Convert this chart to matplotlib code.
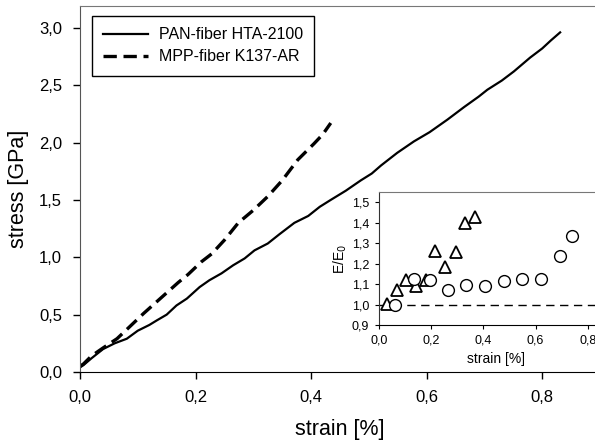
import matplotlib
matplotlib.use("Agg")
import matplotlib.pyplot as plt
from matplotlib.ticker import FuncFormatter

plt.rcParams['font.family'] = ['Liberation Sans', 'DejaVu Sans']

# stress-strain curves
pan_strain = [0.000, 0.006, 0.020, 0.040, 0.060, 0.081, 0.100, 0.120, 0.133, 0.150,
              0.167, 0.185, 0.207, 0.224, 0.245, 0.265, 0.285, 0.302, 0.325, 0.345,
              0.371, 0.395, 0.415, 0.434, 0.460, 0.486, 0.505, 0.521, 0.549, 0.578,
              0.605, 0.636, 0.665, 0.690, 0.705, 0.730, 0.751, 0.779, 0.800, 0.815,
              0.831]
pan_stress = [0.04, 0.06, 0.12, 0.20, 0.25, 0.29, 0.36, 0.41, 0.45, 0.50,
              0.58, 0.64, 0.74, 0.80, 0.86, 0.93, 0.99, 1.06, 1.12, 1.20,
              1.30, 1.36, 1.44, 1.50, 1.58, 1.67, 1.73, 1.80, 1.91, 2.01,
              2.09, 2.20, 2.31, 2.40, 2.46, 2.54, 2.62, 2.74, 2.82, 2.89,
              2.96]

mpp_strain = [0.000, 0.006, 0.020, 0.040, 0.064, 0.085, 0.110, 0.130, 0.150, 0.170,
              0.187, 0.210, 0.228, 0.250, 0.274, 0.300, 0.325, 0.350, 0.377, 0.405,
              0.420, 0.434]
mpp_stress = [0.05, 0.07, 0.14, 0.21, 0.29, 0.39, 0.51, 0.60, 0.69, 0.78,
              0.85, 0.96, 1.03, 1.15, 1.30, 1.41, 1.53, 1.67, 1.85, 1.99,
              2.07, 2.17]

# inset: E/E0 vs strain
tri_strain = [0.031, 0.069, 0.103, 0.141, 0.180, 0.214, 0.253, 0.295, 0.330, 0.368]
tri_ratio = [1.005, 1.07, 1.12, 1.09, 1.12, 1.26, 1.185, 1.255, 1.40, 1.43]
circ_strain = [0.063, 0.133, 0.195, 0.265, 0.332, 0.406, 0.477, 0.549, 0.620, 0.692, 0.738]
circ_ratio = [1.00, 1.124, 1.122, 1.07, 1.095, 1.09, 1.116, 1.124, 1.127, 1.237, 1.335]

comma = FuncFormatter(lambda v, p: f"{v:.1f}".replace(".", ","))

fig = plt.figure(figsize=(5.95, 4.45), dpi=100)

ax = fig.add_axes([80/595, 73/445, 520/595, 366/445])
ax.plot(pan_strain, pan_stress, color="black", lw=1.6, label="PAN-fiber HTA-2100")
ax.plot(mpp_strain, mpp_stress, color="black", lw=2.4, ls=(0, (4, 2)),
        label="MPP-fiber K137-AR")
ax.set_xlim(0, 0.9)
ax.set_ylim(0, 3.19)
ax.set_xticks([0, 0.2, 0.4, 0.6, 0.8])
ax.set_yticks([0, 0.5, 1.0, 1.5, 2.0, 2.5, 3.0])
ax.xaxis.set_major_formatter(comma)
ax.yaxis.set_major_formatter(comma)
ax.tick_params(direction="out", length=5, labelsize=12, width=1)
ax.tick_params(axis="x", pad=8)
ax.tick_params(axis="y", pad=8)
ax.spines["top"].set_color("#777777")
ax.spines["left"].set_color("#555555")
ax.spines["right"].set_color("#777777")
ax.set_xlabel("strain [%]", fontsize=15.5)
ax.xaxis.set_label_coords(0.5, -(419 - 372) / 366)
ax.set_ylabel("stress [GPa]", fontsize=15.5)
ax.yaxis.set_label_coords(-(80 - 29) / 520, 0.5)
leg = ax.legend(loc="upper left", bbox_to_anchor=((92 - 80) / 520, (372 - 16) / 366),
                borderaxespad=0, fontsize=11.5, fancybox=False, framealpha=1,
                edgecolor="black", handlelength=2.8, handletextpad=0.7,
                borderpad=0.7, labelspacing=0.45)
leg.get_frame().set_linewidth(1.0)

ins = fig.add_axes([379/595, 120/445, 235/595, 133/445])
ins.plot(tri_strain, tri_ratio, ls="none", marker="^", ms=8.5, mfc="white",
         mec="black", mew=1.3)
ins.plot(circ_strain, circ_ratio, ls="none", marker="o", ms=8.5, mfc="white",
         mec="black", mew=1.0)
ins.axhline(1.0, color="black", lw=1.0, ls=(0, (6, 4)), zorder=0)
ins.set_xlim(0, 0.9)
ins.set_ylim(0.9, 1.55)
ins.set_xticks([0, 0.2, 0.4, 0.6, 0.8])
ins.set_yticks([0.9, 1.0, 1.1, 1.2, 1.3, 1.4, 1.5])
ins.xaxis.set_major_formatter(comma)
ins.yaxis.set_major_formatter(comma)
ins.tick_params(direction="out", length=3, labelsize=9, pad=4)
ins.spines["top"].set_color("#777777")
ins.spines["right"].set_color("#777777")
ins.spines["left"].set_color("#333333")
ins.set_xlabel("strain [%]", fontsize=10, labelpad=4)
ins.set_ylabel("E/E$_0$", fontsize=10, labelpad=2)

fig.savefig("out.png", dpi=100)
